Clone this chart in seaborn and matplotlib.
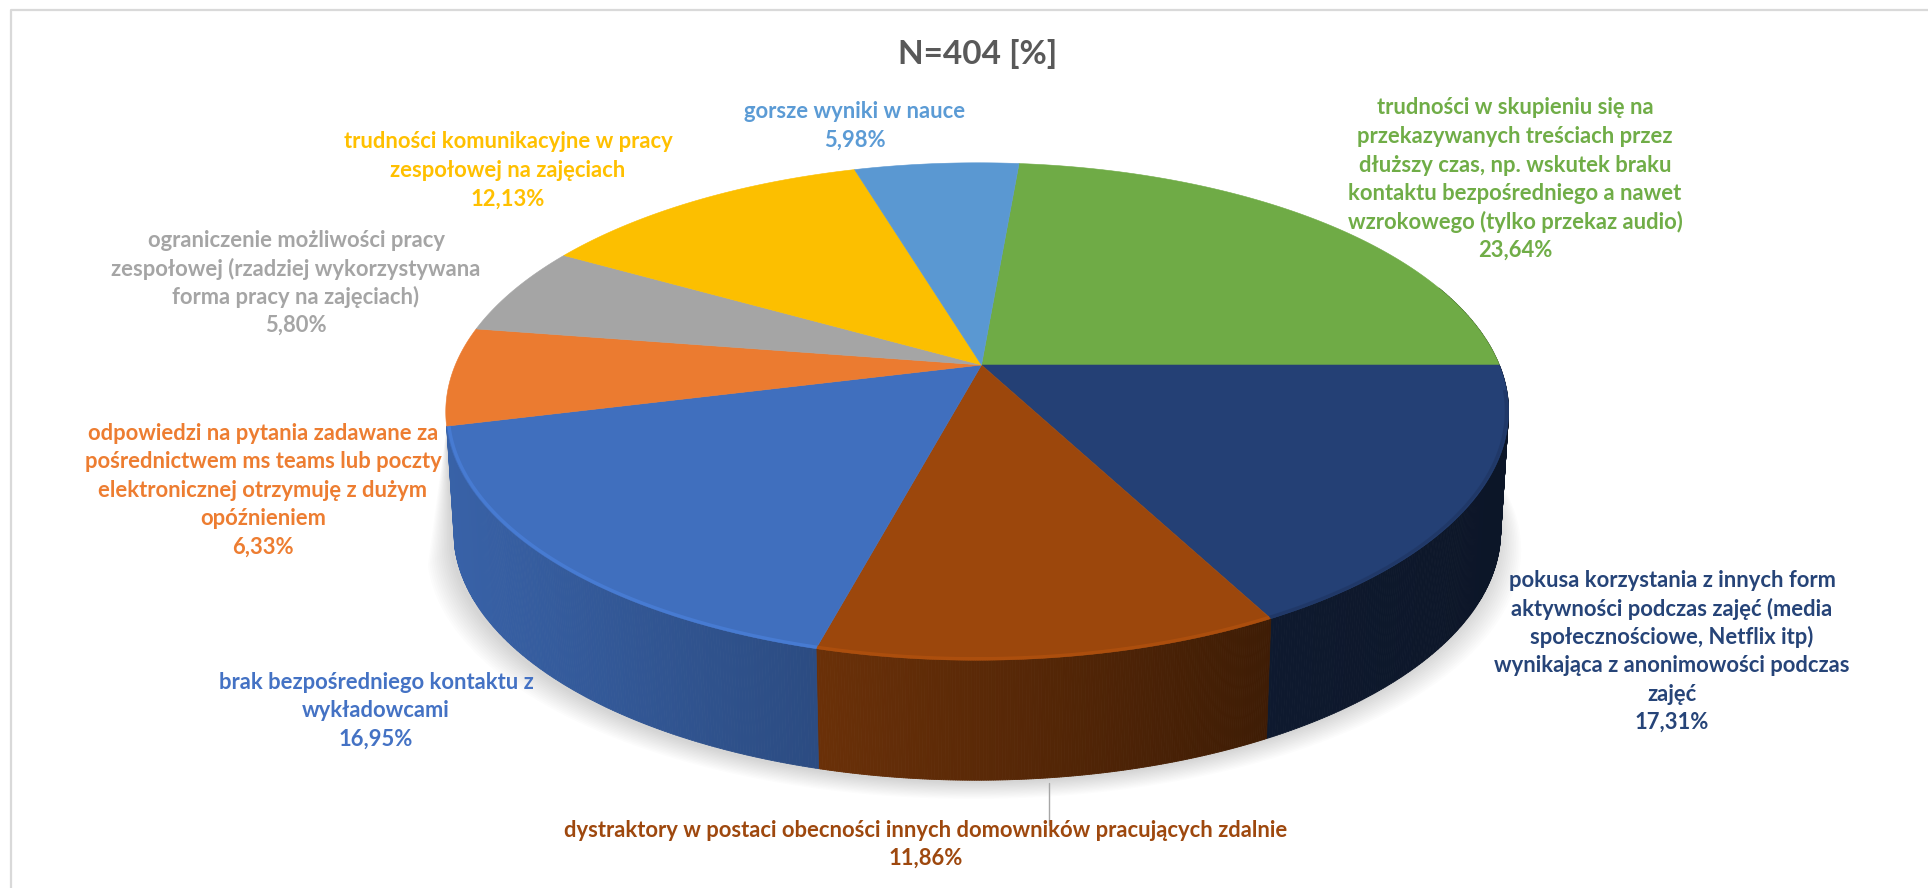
import numpy as np
import matplotlib
matplotlib.use('Agg')
import matplotlib.pyplot as plt
from matplotlib.collections import PolyCollection
import seaborn as sns

title = 'N=404 [%]'
values = [23.64, 17.31, 11.86, 16.95, 6.33, 5.80, 12.13, 5.98]
value_labels = ['23,64%', '17,31%', '11,86%', '16,95%', '6,33%', '5,80%', '12,13%', '5,98%']
categories = [
    ['trudności w skupieniu się na', 'przekazywanych treściach przez', 'dłuższy czas, np. wskutek braku',
     'kontaktu bezpośredniego a nawet', 'wzrokowego (tylko przekaz audio)'],
    ['pokusa korzystania z innych form', 'aktywności podczas zajęć (media', 'społecznościowe, Netflix itp)',
     'wynikająca z anonimowości podczas', 'zajęć'],
    ['dystraktory w postaci obecności innych domowników pracujących zdalnie'],
    ['brak bezpośredniego kontaktu z', 'wykładowcami'],
    ['odpowiedzi na pytania zadawane za', 'pośrednictwem ms teams lub poczty',
     'elektronicznej otrzymuję z dużym', 'opóźnieniem'],
    ['ograniczenie możliwości pracy', 'zespołowej (rzadziej wykorzystywana', 'forma pracy na zajęciach)'],
    ['trudności komunikacyjne w pracy', 'zespołowej na zajęciach'],
    ['gorsze wyniki w nauce'],
]
colors = ['#6FAB46', '#244075', '#9C470C', '#406FBE', '#EB7B30', '#A5A5A5', '#FCBF00', '#5A98D2']
text_colors = ['#70AD47', '#264478', '#9E480E', '#4472C4', '#ED7D31', '#A5A5A5', '#FFC000', '#5B9BD5']
# where each label block starts (centre x, first line y)
label_pos = [(1515, 108), (1672, 580), (926, 830), (376, 682), (263, 433), (296, 240), (508, 142), (855, 112)]

# pie geometry in image pixels, a perspective view of a disc
cx, cy = 981.5, 365
b, a = 522, 240
k, m = 0.187, 0.008
depth = 120
start_angle = 85.1
line_h = 28.5


def top_edge(t, r=1.0):
    u, v = r * np.cos(t), r * np.sin(t)
    den = 1 + k * v + m * u
    return cx + b * u / den, cy - a * v / den


def bottom_edge(t):
    x, y = top_edge(t)
    return cx + (x - cx) * 0.985, y + depth


def shade(col, f):
    return tuple(min(1, c * f) for c in matplotlib.colors.to_rgb(col))


sns.set_theme(style='white')
plt.rcParams['font.family'] = ['Lato', 'DejaVu Sans']

fig, ax = plt.subplots(figsize=(19.28, 8.88), dpi=100)
fig.subplots_adjust(0, 0, 1, 1)
ax.set_xlim(0, 1928)
ax.set_ylim(888, 0)
ax.axis('off')

# frame of the chart, only top and left reach into the picture
ax.plot([11, 11, 1928], [888, 10, 10], color='#D9D9D9', lw=1.6, zorder=1)

# soft shadow below the pie
tt = np.linspace(np.radians(-166), np.radians(20), 300)
bx, by = bottom_edge(tt)
tx0, ty0 = top_edge(tt)
for grow in np.linspace(24, 1, 14):
    sx = cx - 3 + (bx - cx) * (1 + grow / 530)
    sy = by + 2 + grow * 0.7
    ax.fill(np.r_[sx, tx0[::-1]], np.r_[sy, ty0[::-1]], color='black', alpha=0.012, lw=0, zorder=2)

bounds = start_angle - 360 * np.cumsum([0] + values) / np.sum(values)
bounds = np.radians(bounds)

# side wall, darker towards the right. It starts at the blue/orange joint on
# the left, so the back slices (orange onwards) get none
for i, col in enumerate(colors[:4]):
    t = np.linspace(bounds[i], bounds[i + 1], 200)
    x1, y1 = top_edge(t)
    x2, y2 = bottom_edge(t)
    quads, cols = [], []
    for j in range(len(t) - 1):
        if np.sin(t[j]) > 0.35:
            continue
        quads.append([(x1[j], y1[j]), (x1[j + 1], y1[j + 1]), (x2[j + 1], y2[j + 1]), (x2[j], y2[j])])
        cols.append(shade(col, np.interp(x1[j], [450, 820, 1270, 1510], [0.88, 0.68, 0.40, 0.34])))
    if quads:
        ax.add_collection(PolyCollection(quads, facecolors=cols, edgecolors=cols, linewidths=0.6, zorder=3))

# top face
for i, col in enumerate(colors):
    t = np.linspace(bounds[i], bounds[i + 1], 200)
    x, y = top_edge(t)
    ax.fill(np.r_[cx, x], np.r_[cy, y], color=col, lw=0.4, zorder=4)

# light rim on the front edge of the top face
for i, col in enumerate(colors[:4]):
    t = np.linspace(bounds[i], bounds[i + 1], 200)
    t = t[np.sin(t) < -0.1]
    if len(t) == 0:
        continue
    x, y = top_edge(t, 0.996)
    f = 0.8 if i == 1 else 1.2
    ax.plot(x, y, color=shade(col, f), lw=2.4, alpha=0.55, solid_capstyle='butt', zorder=5)

# leader line of the bottom label
ax.plot([1049, 1049], [783, 825], color='#A6A6A6', lw=1, zorder=6)

ax.text(978, 54, title, ha='center', va='center', fontsize=24, fontweight='bold', color='#595959', zorder=7)
for lines, val, col, (tx, ty) in zip(categories, value_labels, text_colors, label_pos):
    for n, line in enumerate(lines + [val]):
        ax.text(tx, ty + n * line_h, line, ha='center', va='center', fontsize=15.8, fontweight='bold',
                color=col, zorder=7)

sns.despine(ax=ax, left=True, bottom=True)
fig.savefig('out.png', dpi=100)
